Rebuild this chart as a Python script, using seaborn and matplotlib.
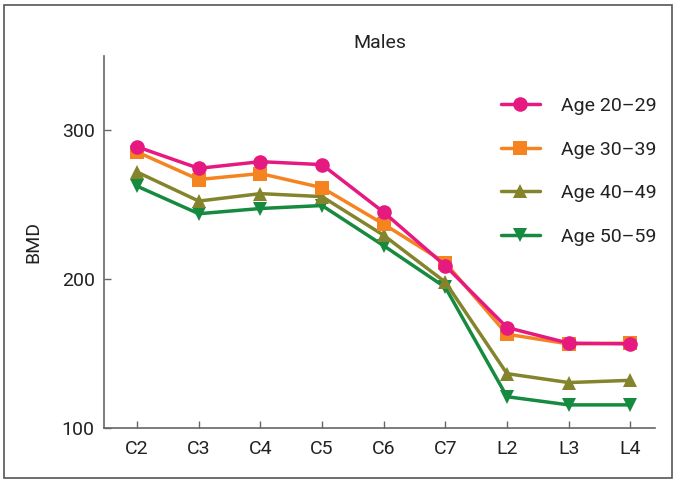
import pandas as pd
import matplotlib.pyplot as plt
import seaborn as sns
from matplotlib.patches import Rectangle

# data
levels = ["C2", "C3", "C4", "C5", "C6", "C7", "L2", "L3", "L4"]
groups = ["Age 20\u201329", "Age 30\u201339", "Age 40\u201349", "Age 50\u201359"]
age_20_29 = [289, 274.5, 279, 277, 245, 209, 167.5, 157, 156.5]
age_30_39 = [285.5, 267, 271, 261.5, 237, 211, 163, 156.5, 157]
age_40_49 = [272, 252.5, 257.5, 255.5, 229.5, 198, 136.5, 130.5, 132]
age_50_59 = [262.5, 244, 247.5, 249.5, 222.5, 194.5, 121, 115.5, 115.5]

colors = ["#E5197F", "#F58420", "#84842C", "#168A3E"]
markers = ["o", "s", "^", "v"]

rows = []
for g, vals in zip(groups, [age_20_29, age_30_39, age_40_49, age_50_59]):
    for lvl, v in zip(levels, vals):
        rows.append({"level": lvl, "BMD": v, "group": g})
df = pd.DataFrame(rows)

sns.set_style("white")
plt.rcParams['font.family'] = ['Roboto', 'DejaVu Sans']
plt.rcParams['text.color'] = "#222222"
plt.rcParams['xtick.color'] = "#666666"
plt.rcParams['ytick.color'] = "#666666"
plt.rcParams['xtick.labelcolor'] = "#222222"
plt.rcParams['ytick.labelcolor'] = "#222222"

fig = plt.figure(figsize=(6.78, 4.83), dpi=100)
ax = fig.add_axes([0.154, 0.114, 0.812, 0.770])

sns.lineplot(data=df, x="level", y="BMD", hue="group", style="group",
             palette=colors, markers=markers, dashes=False, sort=False,
             linewidth=2.5, markersize=10.5, markeredgewidth=0, ax=ax)

# youngest group drawn on top, as in the original
for i, line in enumerate(ax.lines[:len(groups)]):
    line.set_zorder(10 - i)

ax.set_xlim(-0.53, 8.4)
ax.set_ylim(100, 350)
ax.set_yticks([100, 200, 300])
ax.set_xlabel("")
ax.set_ylabel("BMD", fontsize=14, labelpad=14, color="#222222")
ax.set_title("Males", fontsize=14, pad=6)

for s in ["top", "right"]:
    ax.spines[s].set_visible(False)
for s in ["left", "bottom"]:
    ax.spines[s].set_color("#666666")
    ax.spines[s].set_linewidth(1.2)
ax.tick_params(bottom=True, left=True, direction="in", length=5, width=1,
               labelsize=14, pad=7)
ax.tick_params(axis="x", pad=9)

handles, labels = ax.get_legend_handles_labels()
ax.legend(handles, labels, loc="upper left", bbox_to_anchor=(0.72, 0.89),
          frameon=False, fontsize=14, handlelength=2.0, handletextpad=1.1,
          labelspacing=1.32, borderpad=0, borderaxespad=0)

# outer frame around the figure
fig.patches.append(Rectangle((4 / 678, 1 - 478 / 483), 668 / 678, 473 / 483,
                             transform=fig.transFigure, fill=False,
                             edgecolor="#555555", linewidth=1.2))

fig.savefig("out.png", dpi=100)
